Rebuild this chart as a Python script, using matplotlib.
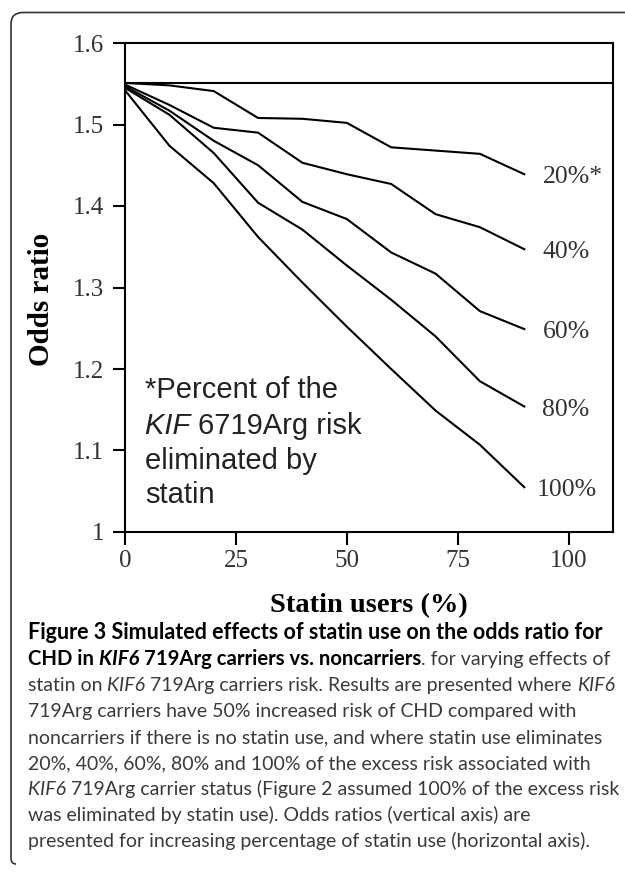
import matplotlib
matplotlib.use('Agg')
import matplotlib.pyplot as plt
from matplotlib.path import Path
from matplotlib.patches import PathPatch

W, H = 625, 874

# data
statin_users = [0, 10, 20, 30, 40, 50, 60, 70, 80, 90]
or_20 = [1.551, 1.548, 1.541, 1.508, 1.507, 1.502, 1.472, 1.468, 1.464, 1.439]
or_40 = [1.549, 1.524, 1.496, 1.490, 1.453, 1.439, 1.427, 1.390, 1.374, 1.347]
or_60 = [1.547, 1.517, 1.480, 1.450, 1.405, 1.384, 1.343, 1.317, 1.271, 1.249]
or_80 = [1.545, 1.512, 1.465, 1.404, 1.371, 1.327, 1.285, 1.240, 1.185, 1.154]
or_100 = [1.542, 1.474, 1.428, 1.362, 1.306, 1.252, 1.200, 1.149, 1.107, 1.055]
series_labels = ['20%*', '40%', '60%', '80%', '100%']
no_statin_or = 1.551

x_ticks = [0, 25, 50, 75, 100]
y_ticks = [1.0, 1.1, 1.2, 1.3, 1.4, 1.5, 1.6]
y_tick_labels = ['1', '1.1', '1.2', '1.3', '1.4', '1.5', '1.6']

fig = plt.figure(figsize=(W / 100, H / 100), dpi=100)
renderer = fig.canvas.get_renderer()

# rounded frame (only top and left edges are visible)
px = lambda x, y: (x / W, 1 - y / H)
verts = [px(16, 864), px(11, 864), px(11, 858), px(11, 24), px(11, 12.5), px(23, 12.5), px(640, 12.5)]
codes = [Path.MOVETO, Path.CURVE3, Path.CURVE3, Path.LINETO, Path.CURVE3, Path.CURVE3, Path.LINETO]
fig.add_artist(PathPatch(Path(verts, codes), transform=fig.transFigure, fill=False,
                         edgecolor='#333333', lw=1.2))

ax = fig.add_axes([125 / W, 1 - 532 / H, 488 / W, 489 / H])
serif = 'Liberation Serif'

all_series = [or_20, or_40, or_60, or_80, or_100]
for vals, lab in zip(all_series, series_labels):
    ax.plot(statin_users, vals, color='black', lw=1.5)
    lx = 92.8 if lab == '100%' else 94.1
    ax.text(lx, vals[-1] - 0.004, lab, ha='left', va='center', family=serif,
            fontsize=18.5, color='#333333')
ax.axhline(no_statin_or, color='black', lw=1.5)

ax.set_xlim(0, 110)
ax.set_ylim(1, 1.6)
ax.set_xticks(x_ticks)
ax.set_xticklabels([str(t) for t in x_ticks])
ax.set_yticks(y_ticks)
ax.set_yticklabels(y_tick_labels)
ax.tick_params(direction='out', length=9, width=1.5, labelsize=18, labelcolor='#333333')
ax.tick_params(axis='x', pad=4)
ax.tick_params(axis='y', pad=6)
for lbl in ax.get_xticklabels() + ax.get_yticklabels():
    lbl.set_family(serif)
for sp in ax.spines.values():
    sp.set_linewidth(1.5)

ax.set_xlabel('Statin users (%)', family=serif, fontsize=20.5, weight='bold')
ax.set_ylabel('Odds ratio', family=serif, fontsize=21, weight='bold')
ax.xaxis.set_label_coords(0.5, -0.125)
ax.yaxis.set_label_coords(-0.143, 0.475)


def text_width(s, **kw):
    t = fig.text(0, 0, '|' + s + '|', **kw)
    w1 = t.get_window_extent(renderer).width
    t.remove()
    t = fig.text(0, 0, '||', **kw)
    w2 = t.get_window_extent(renderer).width
    t.remove()
    return w1 - w2


def put_pieces(x, y, pieces, **kw):
    for s, style in pieces:
        props = dict(kw)
        props.update(style)
        fig.text(x / W, 1 - y / H, s, ha='left', va='baseline', **props)
        x += text_width(s, **props)


# note inside the plot
note_kw = dict(family='Liberation Sans', fontsize=21, color='#222222')
IT = {'style': 'italic'}
RG = {}
put_pieces(145, 398, [('*Percent of the', RG)], **note_kw)
put_pieces(145, 434, [('KIF ', IT), ('6719Arg risk', RG)], **note_kw)
put_pieces(145, 469, [('eliminated by', RG)], **note_kw)
put_pieces(145, 503, [('statin', RG)], **note_kw)

# caption (bold part is wider than the condensed regular text)
B = {'weight': 'bold', 'color': 'black', 'fontsize': 15.5}
B2 = {'weight': 'bold', 'color': 'black', 'fontsize': 14.6}
BI2 = {'weight': 'bold', 'style': 'italic', 'color': 'black', 'fontsize': 14.6}
R = {'color': '#3a3a3a', 'fontsize': 14}
I = {'style': 'italic', 'color': '#3a3a3a', 'fontsize': 14}
caption = [
    [('Figure 3 Simulated effects of statin use on the odds ratio for', B)],
    [('CHD in ', B2), ('KIF6 ', BI2), ('719Arg carriers vs. noncarriers', B2), ('. for varying effects of', R)],
    [('statin on ', R), ('KIF6 ', I), ('719Arg carriers risk. Results are presented where ', R), ('KIF6', I)],
    [('719Arg carriers have 50% increased risk of CHD compared with', R)],
    [('noncarriers if there is no statin use, and where statin use eliminates', R)],
    [('20%, 40%, 60%, 80% and 100% of the excess risk associated with', R)],
    [('KIF6 ', I), ('719Arg carrier status (Figure 2 assumed 100% of the excess risk', R)],
    [('was eliminated by statin use). Odds ratios (vertical axis) are', R)],
    [('presented for increasing percentage of statin use (horizontal axis).', R)],
]
for i, line in enumerate(caption):
    put_pieces(28, 639 + 26 * i, line, family='Lato')

fig.savefig('out.png', dpi=100)
